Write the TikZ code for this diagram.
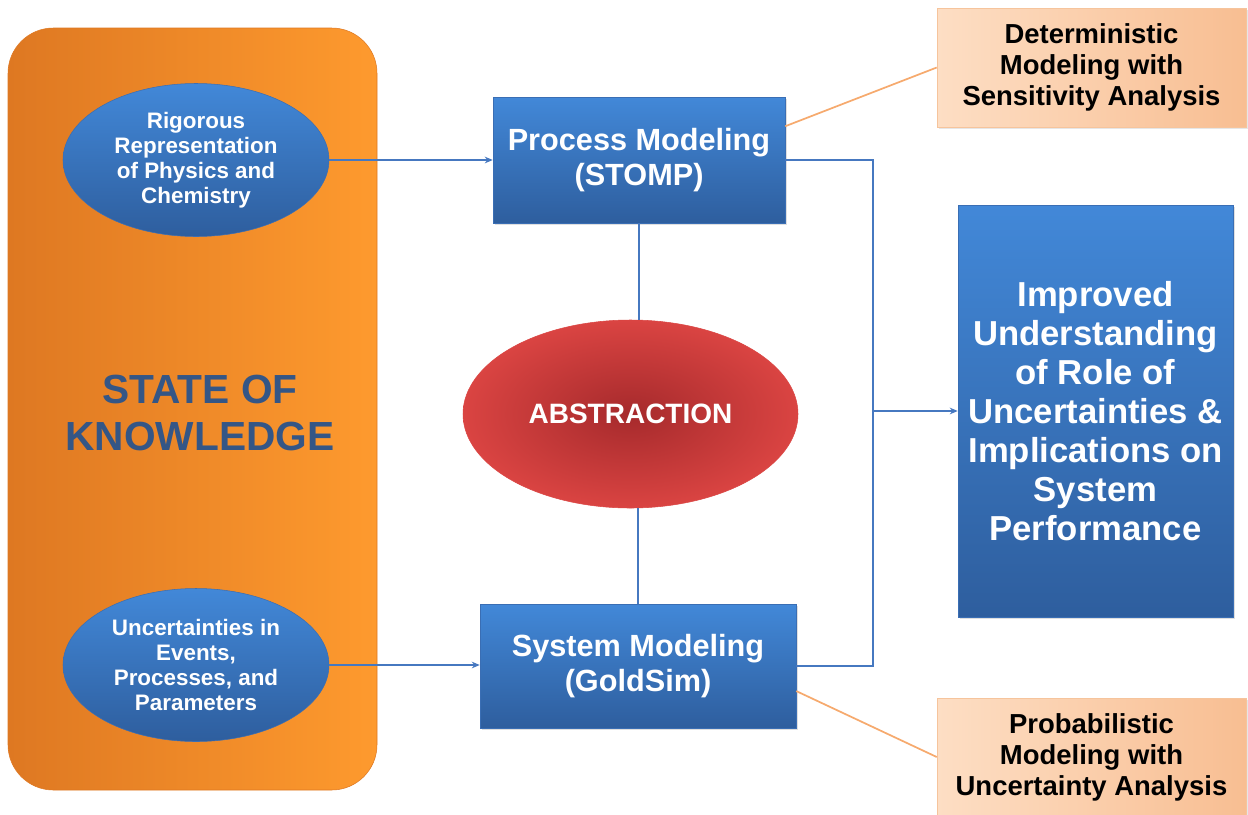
\documentclass[tikz,border=0pt]{standalone}
\usepackage{fontspec}
\setmainfont{Liberation Sans}
\usetikzlibrary{shapes.geometric,arrows.meta,shadows}

\definecolor{boxtop}{RGB}{66,136,216}
\definecolor{boxbot}{RGB}{46,94,158}
\definecolor{boxedge}{RGB}{58,110,180}
\definecolor{panelleft}{RGB}{222,120,34}
\definecolor{panelright}{RGB}{254,154,46}
\definecolor{peachleft}{RGB}{253,222,196}
\definecolor{peachright}{RGB}{248,190,146}
\definecolor{peachedge}{RGB}{246,196,156}
\definecolor{redin}{RGB}{166,42,44}
\definecolor{redout}{RGB}{218,68,66}
\definecolor{linkblue}{RGB}{70,120,192}
\definecolor{calloutorange}{RGB}{246,170,110}
\definecolor{sokblue}{RGB}{52,86,134}

\tikzset{every picture/.style={line width=0.75pt}}
\tikzset{
  bluebox/.style={rectangle, top color=boxtop, bottom color=boxbot, draw=boxedge, line width=0.4pt,
    align=center, text=white, font=\bfseries, inner sep=0.75pt,
    drop shadow={opacity=0.25, shadow xshift=1.5pt, shadow yshift=-1.5pt}},
  blueoval/.style={ellipse, top color=boxtop, bottom color=boxbot, draw=boxedge, line width=0.4pt,
    align=center, text=white, font=\bfseries\fontsize{16.8}{18.8}\selectfont, inner sep=0pt,
    minimum width=199.5pt, minimum height=114.75pt},
  peachbox/.style={rectangle, left color=peachleft, right color=peachright, draw=peachedge, line width=0.4pt,
    align=center, text=black, font=\bfseries\fontsize{20.6}{23.3}\selectfont, inner sep=0pt,
    minimum width=231.75pt, drop shadow={opacity=0.2, shadow xshift=1.5pt, shadow yshift=-1.5pt}},
  link/.style={draw=linkblue, line width=1.1pt},
  linkarrow/.style={link, -{Stealth[length=6pt,width=5pt]}},
  callout/.style={draw=calloutorange, line width=1.3pt}
}

\begin{document}
\begin{tikzpicture}[x=0.75pt,y=0.75pt,yscale=-1,xscale=1]
\useasboundingbox (0,0) rectangle (1248,814);

%Shape: Rounded Rect [id:sok]
\draw (192.5,409) node [rectangle, rounded corners=34pt, left color=panelleft, right color=panelright, draw=panelleft,
  line width=0.4pt, minimum width=276.75pt, minimum height=571.5pt, inner sep=0pt] (sok) {};
% Text Node
\draw (200,413) node [align=center, text=sokblue, font=\bfseries\fontsize{30.5}{35}\selectfont, inner sep=0.75pt] (soktext) {STATE OF\\KNOWLEDGE};

%Shape: Ellipse [id:physics]
\draw (196,160) node [blueoval] (physics) {Rigorous\\Representation\\of Physics and\\Chemistry};
%Shape: Ellipse [id:uncert]
\draw (196,665) node [blueoval] (uncert) {Uncertainties in\\Events,\\Processes, and\\Parameters};

%Shape: Rectangle [id:process]
\draw (639,160) node [bluebox, minimum width=219pt, minimum height=94.5pt, font=\bfseries\fontsize{23}{26.25}\selectfont] (process) {Process Modeling\\(STOMP)};
%Shape: Rectangle [id:system]
\draw (638,666) node [bluebox, minimum width=237pt, minimum height=93pt, font=\bfseries\fontsize{23}{26.25}\selectfont] (system) {System Modeling\\(GoldSim)};

%Shape: Ellipse [id:abstraction]
\draw (630.5,414) node [ellipse, inner color=redin, outer color=redout, draw=redout, line width=0.4pt, inner sep=0pt,
  minimum width=251.25pt, minimum height=141pt, text=white, font=\bfseries\fontsize{21}{24}\selectfont] (abs) {ABSTRACTION};

%Shape: Rectangle [id:result]
\draw (1095.5,411) node [bluebox, minimum width=206.25pt, minimum height=309pt, font=\bfseries\fontsize{26}{29.25}\selectfont] (result) {Improved\\Understanding\\of Role of\\Uncertainties \&\\Implications on\\System\\Performance};

%Shape: Rectangle [id:det]
\draw (1091.5,67.5) node [peachbox, minimum height=89.25pt] (det) {Deterministic\\Modeling with\\Sensitivity Analysis};
%Shape: Rectangle [id:prob]
\draw (1091.5,757) node [peachbox, minimum height=88pt] (prob) {Probabilistic\\Modeling with\\Uncertainty Analysis};

%Straight Lines: inputs
\draw [linkarrow] (physics.east) -- (physics.east -| process.west);
\draw [linkarrow] (uncert.east) -- (uncert.east -| system.west);

%Straight Lines: abstraction links
\draw [link] (process.south) -- (process.south |- abs.north);
\draw [link] (system.north) -- (system.north |- abs.south);

%Straight Lines: outputs
\coordinate (jn) at (873,411);
\draw [link] (process.east) -| (jn) |- (system.east);
\draw [linkarrow] (jn) -- (jn -| result.west);

%Straight Lines: callouts
\draw [callout] (process.13) -- (det.west);
\draw [callout] (system.-9) -- (prob.west);
\end{tikzpicture}
\end{document}
